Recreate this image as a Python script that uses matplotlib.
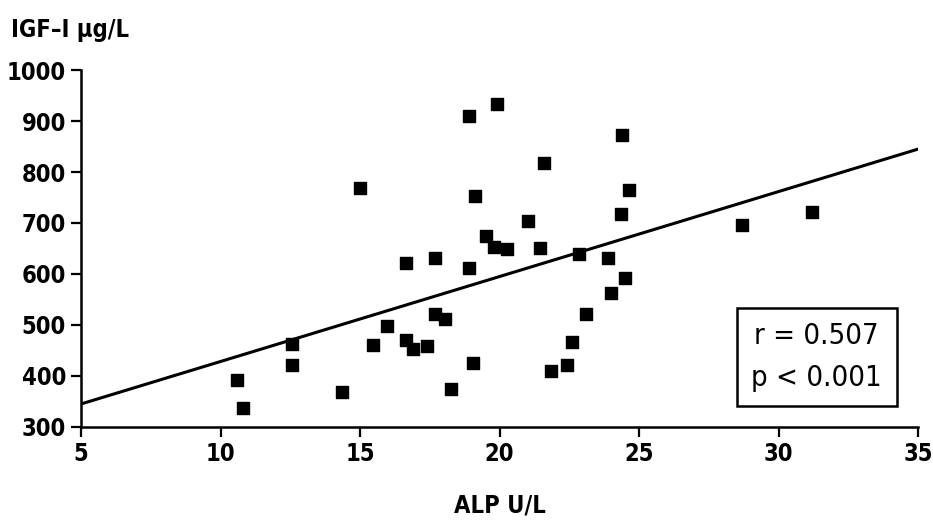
import numpy as np
import matplotlib
matplotlib.use("Agg")
from matplotlib import pyplot as plt

plt.rcParams['font.family'] = ['Liberation Sans Narrow', 'DejaVu Sans']
plt.rcParams['font.stretch'] = 'condensed'

# data
alp = [10.6, 10.8, 12.55, 12.55, 14.35, 15.0, 15.45, 15.95, 16.65, 16.9,
       17.4, 17.7, 18.05, 18.25, 16.65, 17.7, 19.9, 18.9, 24.4, 21.6,
       24.65, 19.1, 24.35, 21.0, 19.5, 19.8, 20.25, 21.45, 18.9, 22.85,
       23.9, 24.5, 24.0, 23.1, 22.6, 22.4, 21.85, 19.05, 28.7, 31.2]
igf = [392, 338, 462, 422, 368, 769, 460, 498, 470, 452,
       458, 522, 512, 375, 621, 631, 933, 910, 873, 817,
       765, 753, 718, 704, 675, 653, 649, 651, 612, 639,
       631, 592, 563, 522, 466, 422, 410, 426, 696, 721]
# regression line
fit_x = [5, 35]
fit_y = [345, 845]

fig = plt.figure(figsize=(9.33, 5.27), dpi=100)
ax = fig.add_axes([0.087, 0.19, 0.897, 0.677])

ax.scatter(alp, igf, marker='s', s=70, color='black', zorder=3)
ax.plot(fit_x, fit_y, color='black', lw=2.2)

ax.set_xlim(5, 35)
ax.set_ylim(300, 1000)
ax.set_xticks([5, 10, 15, 20, 25, 30, 35])
ax.set_yticks(np.arange(300, 1001, 100))
for s in ['top', 'right']:
    ax.spines[s].set_visible(False)
for s in ['left', 'bottom']:
    ax.spines[s].set_linewidth(1.8)
ax.tick_params(direction='out', length=7, width=1.6, labelsize=17, pad=4)
for lab in ax.get_xticklabels() + ax.get_yticklabels():
    lab.set_fontweight('bold')

ax.set_xlabel('ALP U/L', fontsize=17, fontweight='bold', labelpad=20)
fig.text(0.012, 0.943, 'IGF–I μg/L', fontsize=17, fontweight='bold',
         va='center', ha='left')

ax.text(0.879, 0.196, 'r = 0.507\np < 0.001', transform=ax.transAxes,
        fontsize=21, linespacing=1.6, va='center', ha='center',
        bbox=dict(boxstyle='square,pad=0.5', facecolor='white',
                  edgecolor='black', lw=1.8))

fig.savefig('out.png', dpi=100)
